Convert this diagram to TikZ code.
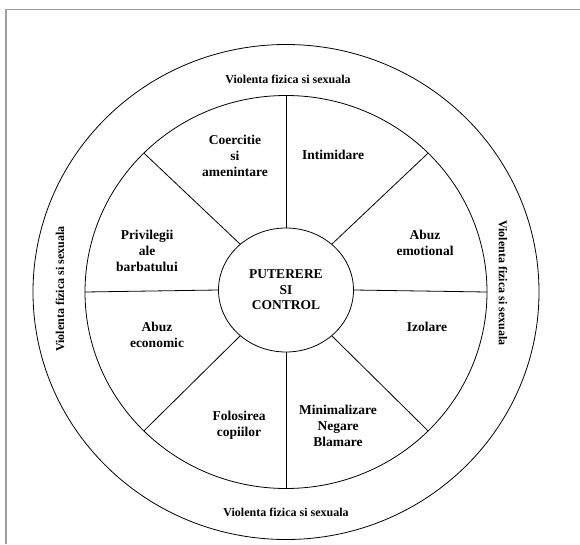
\documentclass[tikz,border=0pt]{standalone}
\usepackage{fontspec}
\setmainfont{Liberation Serif}
\usetikzlibrary{shapes.geometric}

\tikzset{sector/.style={align=center, font=\fontsize{13.5}{16}\selectfont\bfseries},
  ring/.style={font=\fontsize{12}{14}\selectfont\bfseries}}

\begin{document}
\begin{tikzpicture}
%[scale=1,every node/.style={draw}]
 [x=1pt,y=1pt,line width=0.8pt]
  \useasboundingbox (-286,-252) rectangle (294,292);
  \draw[gray!75,line width=1.5pt] (-280,-252) -- (-280,282.5) -- (294,282.5);
  \draw (0,0) ellipse [x radius=253pt, y radius=247.5pt];
  \draw (0,0) ellipse [x radius=201pt, y radius=196.5pt];
  \node[draw,ellipse,inner sep=0pt,minimum width=135pt,minimum height=124pt,align=center,font=\fontsize{13.5}{15.5}\selectfont\bfseries] (pc) at (0,2) {PUTERERE\\SI\\CONTROL};
  \node[sector] (coer) at (-51,136) {Coercitie\\si\\amenintare};
  \node[sector] (intim) at (47,137) {Intimidare};
  \node[sector] (emot) at (139,49) {Abuz\\emotional};
  \node[sector] (izol) at (141,-35) {Izolare};
  \node[sector] (minim) at (52,-134) {Minimalizare\\Negare\\Blamare};
  \node[sector] (copii) at (-47,-133) {Folosirea\\copiilor};
  \node[sector] (econ) at (-129,-43) {Abuz\\economic};
  \node[sector] (priv) at (-139,41) {Privilegii\\ale\\barbatului};
  \node[ring] (vtop) at (2,213) {Violenta fizica si sexuala};
  \node[ring] (vbot) at (0,-220) {Violenta fizica si sexuala};
  \node[ring,rotate=90] (vleft) at (-226,3) {Violenta fizica si sexuala};
  \node[ring,rotate=-90] (vright) at (217,9) {Violenta fizica si sexuala};
  \foreach \a in {0,45,...,315}
    \coordinate (w\a) at (\a:201 and 196.5);
  \foreach \a in {0,45,...,315}
    \draw (pc.\a) -- (w\a);
\end{tikzpicture}
\end{document}
